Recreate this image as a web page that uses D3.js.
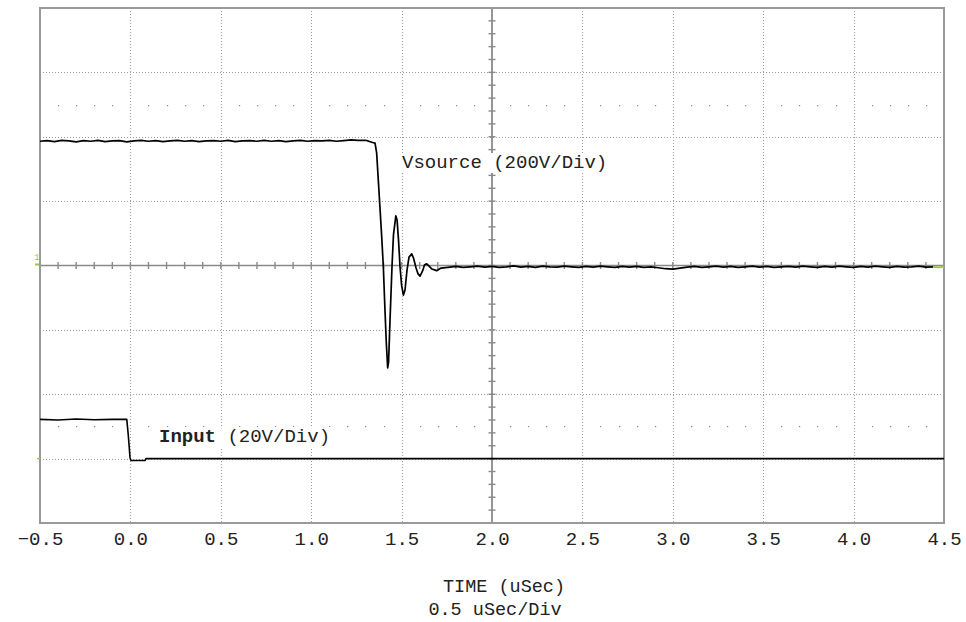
<!DOCTYPE html>
<html><head><meta charset="utf-8">
<script src="https://cdn.jsdelivr.net/npm/d3@7"></script>
<style>
html,body{margin:0;padding:0;background:#fff;}
svg text{font-family:"Liberation Mono","Courier New",monospace;}
</style></head>
<body>
<svg id="chart" width="966" height="622"></svg>
<script>
// ---- data ----
const xTicks = [-0.5,0.0,0.5,1.0,1.5,2.0,2.5,3.0,3.5,4.0,4.5];
const xLabel = "TIME (uSec)";
const xScaleLabel = "0.5 uSec/Div";
const vsourceLabel = "Vsource (200V/Div)";
const inputLabelBold = "Input";
const inputLabelRest = " (20V/Div)";
const vsourceVoltsPerDiv = 200;
const inputVoltsPerDiv = 20;
const inputOffsetDiv = -3;

// Vsource: time (uSec), volts
const vsourceT = [-0.50,-0.46,-0.42,-0.38,-0.34,-0.30,-0.26,-0.22,-0.18,-0.14,-0.10,-0.06,-0.02,0.02,0.06,0.10,0.14,0.18,0.22,0.26,0.30,0.34,0.38,0.42,0.46,0.50,0.54,0.58,0.62,0.66,0.70,0.74,0.78,0.82,0.86,0.90,0.94,0.98,1.02,1.06,1.10,1.14,1.18,1.22,1.26,1.30,
  1.314,1.340,1.353,1.362,1.371,1.380,1.390,1.399,1.408,1.416,1.423,1.428,1.436,1.447,1.455,1.468,1.475,1.483,1.491,1.500,1.510,1.519,1.530,1.541,1.556,1.566,1.580,1.591,1.602,1.616,1.627,1.639,1.652,1.668,1.694,1.718,1.768,
  1.80,1.84,1.88,1.92,1.96,2.00,2.04,2.08,2.12,2.16,2.20,2.24,2.28,2.32,2.36,2.40,2.44,2.48,2.52,2.56,2.60,2.64,2.68,2.72,2.76,2.80,2.84,2.88,2.92,2.96,3.00,3.04,3.08,3.12,3.16,3.20,3.24,3.28,3.32,3.36,3.40,3.44,3.48,3.52,3.56,3.60,3.64,3.68,3.72,3.76,3.80,3.84,3.88,3.92,3.96,4.00,4.04,4.08,4.12,4.16,4.20,4.24,4.28,4.32,4.36,4.40,4.44,4.47,4.50];
const vsourceV = [386,388,385,389,387,384,388,386,389,385,387,388,384,387,389,386,388,385,387,389,386,388,385,387,388,386,389,385,387,388,386,389,386,388,385,387,389,386,388,387,389,386,388,390,389,389,
  387,382,380,350,266,183,89,-4,-138,-247,-318,-300,-169,-2,95,154,141,79,-2,-61,-92,-76,-14,26,36,23,-8,-26,-33,-17,2,5,-2,-11,-16,-8,-5,
  -3,-6,-4,-2,-5,-3,-6,-4,-1,-5,-3,-6,-2,-4,-5,-2,-4,-6,-3,-5,-2,-4,-6,-3,-5,-3,-6,-4,-7,-10,-11,-8,-5,-3,-6,-4,-2,-5,-3,-6,-4,-2,-5,-3,-6,-4,-3,-5,-2,-4,-6,-3,-5,-2,-4,-6,-3,-5,-2,-4,-6,-3,-5,-4,-2,-5,-4,-6,-4];

// Input: time (uSec), volts
const inputT = [-0.50,-0.40,-0.30,-0.20,-0.10,-0.020,-0.012,-0.002,0.003,0.081,0.086,4.50];
const inputV = [12.2,12.0,12.3,12.1,12.2,12.2,7.5,0.3,-0.6,-0.6,0.0,0.0];

// ---- layout ----
const svg = d3.select("#chart");
const L = 40, R = 944, T = 8, B = 523;
const x = d3.scaleLinear().domain([-0.5,4.5]).range([L,R]);
const y = d3.scaleLinear().domain([-4,4]).range([B,T]);
const gridColor = "#9a9a9a";

const g = svg.append("g");

// dotted grid
const vGrid = d3.range(-0.5,4.51,0.5).filter(v => Math.abs(v+0.5)>1e-6 && Math.abs(v-4.5)>1e-6 && Math.abs(v-2.0)>1e-6);
g.selectAll(".vg").data(vGrid).join("line")
  .attr("x1",d=>Math.round(x(d))+0.5).attr("x2",d=>Math.round(x(d))+0.5)
  .attr("y1",T).attr("y2",B)
  .attr("stroke",gridColor).attr("stroke-width",1).attr("stroke-dasharray","1,2");
const hGrid = [-3,-2,-1,1,2,3];
g.selectAll(".hg").data(hGrid).join("line")
  .attr("y1",d=>Math.round(y(d))+0.5).attr("y2",d=>Math.round(y(d))+0.5)
  .attr("x1",L).attr("x2",R)
  .attr("stroke",gridColor).attr("stroke-width",1).attr("stroke-dasharray","1,2");

// 10%/90% dot rows
const dotX = d3.range(-0.4,4.45,0.1).filter(v => Math.abs(v*2 - Math.round(v*2))>1e-6);
[2.5,-2.5].forEach(lv=>{
  g.selectAll(null).data(dotX).join("rect")
    .attr("x",d=>Math.round(x(d))).attr("y",Math.round(y(lv)))
    .attr("width",1.2).attr("height",1.2).attr("fill","#888");
});

// center axes
const axisColor = "#8a8a8a";
g.append("line").attr("x1",L).attr("x2",R).attr("y1",y(0)).attr("y2",y(0))
  .attr("stroke",axisColor).attr("stroke-width",1.4);
g.append("line").attr("x1",x(2.0)).attr("x2",x(2.0)).attr("y1",T).attr("y2",B)
  .attr("stroke",axisColor).attr("stroke-width",1.8);
const hTicks = d3.range(-0.4,4.45,0.1);
g.selectAll(".ht").data(hTicks).join("line")
  .attr("x1",d=>x(d)).attr("x2",d=>x(d)).attr("y1",y(0)-3.5).attr("y2",y(0)+3.5)
  .attr("stroke",axisColor).attr("stroke-width",1.4);
const vTicks = d3.range(-3.8,3.85,0.2);
g.selectAll(".vt").data(vTicks).join("line")
  .attr("x1",x(2.0)-3.5).attr("x2",x(2.0)+3.5).attr("y1",d=>y(d)).attr("y2",d=>y(d))
  .attr("stroke",axisColor).attr("stroke-width",1.4);

// frame
g.append("rect").attr("x",L).attr("y",T).attr("width",R-L).attr("height",B-T)
  .attr("fill","none").attr("stroke","#9a9a9a").attr("stroke-width",2);

// trace labels (with white backing boxes that hide the grid behind them)
const labG = svg.append("g");
function addLabel(xp, yp, parts){
  const bg = labG.append("rect").attr("fill","#fff");
  const t = labG.append("text").attr("x",xp).attr("y",yp).attr("font-size",19).attr("fill","#222");
  parts.forEach(p=>t.append("tspan").attr("font-weight",p.bold?"bold":"normal").text(p.text));
  const bb = t.node().getBBox();
  bg.attr("x",bb.x-2).attr("y",bb.y+1).attr("width",bb.width+4).attr("height",bb.height-2);
}
addLabel(402,168,[{text:vsourceLabel}]);
addLabel(159,442,[{text:inputLabelBold,bold:true},{text:inputLabelRest}]);

// traces
const tr = svg.append("g");
const vsPts = vsourceT.map((t,i)=>[t, vsourceV[i]/vsourceVoltsPerDiv]);
const inPts = inputT.map((t,i)=>[t, inputOffsetDiv + inputV[i]/inputVoltsPerDiv]);
const line = d3.line().x(d=>x(d[0])).y(d=>y(d[1]));
const tailStart = vsPts.findIndex(d=>d[0]>=4.44);
tr.append("path").attr("d",line(vsPts.slice(0,tailStart+1)))
  .attr("fill","none").attr("stroke","#000").attr("stroke-width",1.7).attr("stroke-linejoin","round");
tr.append("path").attr("d",line(vsPts.slice(tailStart)))
  .attr("fill","none").attr("stroke","#99cc33").attr("stroke-width",1.8);
tr.append("path").attr("d",line(inPts))
  .attr("fill","none").attr("stroke","#000").attr("stroke-width",1.6).attr("stroke-linejoin","round");

// channel markers
tr.append("line").attr("x1",L-5).attr("x2",L-1).attr("y1",y(0)-1).attr("y2",y(0)-1)
  .attr("stroke","#99cc33").attr("stroke-width",2);
tr.append("text").attr("x",L-3).attr("y",y(0)-6).attr("text-anchor","middle")
  .attr("font-size",9).attr("fill","#99cc33").text("1");
tr.append("line").attr("x1",L-3).attr("x2",L).attr("y1",y(-3)).attr("y2",y(-3))
  .attr("stroke","#e8a040").attr("stroke-width",1.5);

// x axis labels
const ax = svg.append("g").attr("transform",`translate(0,${B})`)
  .call(d3.axisBottom(x).tickValues(xTicks).tickFormat(d3.format(".1f")).tickSize(0));
ax.select(".domain").remove();
ax.selectAll("text").attr("dy",null).attr("y",22)
  .attr("font-size",19).attr("font-family","'Liberation Mono','Courier New',monospace").attr("fill","#222");

svg.append("text").attr("x",504).attr("y",592).attr("text-anchor","middle")
  .attr("font-size",18.5).attr("fill","#222").text(xLabel);
svg.append("text").attr("x",495).attr("y",615).attr("text-anchor","middle")
  .attr("font-size",18.5).attr("fill","#222").text(xScaleLabel);
</script>
</body></html>
